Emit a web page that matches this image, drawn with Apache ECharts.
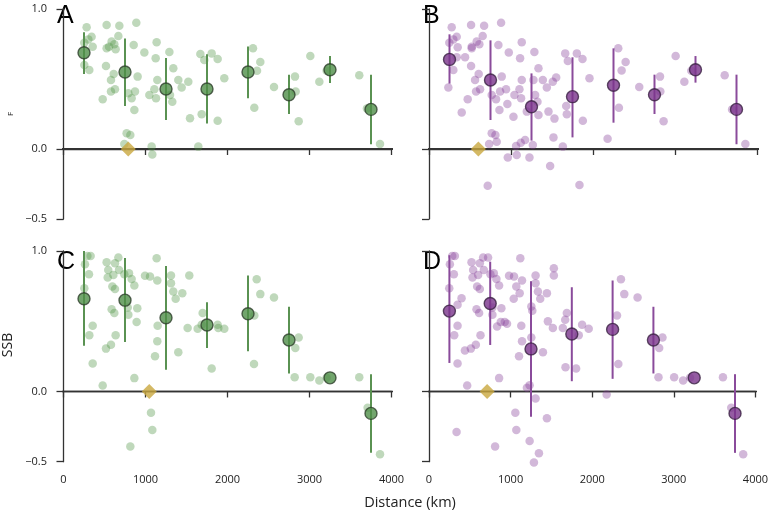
<!DOCTYPE html>
<html>
<head>
<meta charset="utf-8">
<script src="https://cdn.jsdelivr.net/npm/echarts@6/dist/echarts.min.js"></script>
<style>
html,body{margin:0;padding:0;background:#fff;}
#chart{width:771px;height:514px;}
</style>
</head>
<body>
<div id="chart"></div>
<script>
// ---------- DATA ----------
const xTicks = [0, 1000, 2000, 3000, 4000];
const yTicks = [-0.5, 0, 1.0];
const binCenters = [250, 750, 1250, 1750, 2250, 2750, 3250, 3750];

const A_points = [[282,0.869],[526,0.886],[681,0.881],[888,0.902],[343,0.802],[303,0.783],[254,0.759],[356,0.731],[555,0.731],[620,0.748],[669,0.807],[587,0.767],[526,0.719],[636,0.712],[856,0.743],[986,0.690],[1136,0.762],[1291,0.693],[1124,0.648],[1669,0.679],[1807,0.683],[1717,0.636],[1880,0.643],[254,0.600],[315,0.564],[518,0.593],[612,0.536],[579,0.493],[904,0.517],[1144,0.493],[1400,0.493],[1339,0.576],[1522,0.481],[1441,0.440],[1961,0.505],[628,0.426],[579,0.410],[478,0.355],[791,0.398],[872,0.410],[831,0.362],[1047,0.386],[1108,0.426],[1128,0.362],[1299,0.386],[1327,0.338],[864,0.279],[1543,0.219],[1685,0.248],[1880,0.202],[770,0.112],[815,0.100],[1075,0.017],[1083,-0.040],[1644,0.017],[742,0.035],[2311,0.719],[2400,0.621],[2360,0.559],[2327,0.295],[2567,0.443],[2823,0.517],[2831,0.410],[2868,0.198],[3010,0.664],[3120,0.481],[3209,0.559],[3607,0.526],[3700,0.290],[3860,0.036]];
const A_mean = [0.688,0.550,0.429,0.429,0.550,0.388,0.566,0.283];
const A_lo   = [0.536,0.307,0.207,0.183,0.362,0.250,0.471,0.034];
const A_hi   = [0.834,0.790,0.650,0.676,0.733,0.531,0.664,0.531];
const A_ref  = [790, 0];

const B_points = [[277,0.869],[513,0.886],[672,0.881],[879,0.902],[338,0.802],[297,0.783],[248,0.759],[350,0.726],[521,0.731],[614,0.748],[655,0.807],[582,0.767],[521,0.719],[846,0.743],[973,0.690],[1131,0.762],[1285,0.693],[1111,0.648],[1661,0.683],[1803,0.683],[1693,0.629],[1872,0.643],[297,0.564],[513,0.593],[440,0.655],[338,0.655],[606,0.536],[562,0.493],[887,0.517],[1131,0.493],[1274,0.493],[1335,0.576],[1388,0.493],[1551,0.510],[1510,0.481],[1437,0.440],[1957,0.505],[623,0.426],[574,0.410],[472,0.355],[399,0.260],[765,0.386],[867,0.410],[818,0.355],[940,0.426],[956,0.321],[1042,0.386],[1103,0.426],[1123,0.362],[1294,0.386],[1323,0.338],[859,0.279],[1030,0.231],[1193,0.267],[1335,0.243],[1457,0.267],[1530,0.217],[1673,0.307],[1681,0.248],[1876,0.202],[236,0.440],[765,0.112],[810,0.100],[826,0.052],[733,0.036],[1062,0.021],[1119,0.045],[1172,0.064],[1266,0.029],[1070,-0.043],[961,-0.060],[1225,-0.060],[1518,0.083],[1632,0.017],[1477,-0.121],[716,-0.262],[1835,-0.257],[2308,0.719],[2398,0.621],[2349,0.560],[2316,0.295],[2178,0.074],[2564,0.443],[2817,0.517],[2821,0.410],[2861,0.198],[3008,0.664],[3114,0.481],[3199,0.559],[3606,0.526],[3696,0.283],[3858,0.036]];
const B_mean = [0.640,0.493,0.302,0.374,0.455,0.388,0.566,0.283];
const B_lo   = [0.467,0.207,0.060,0.083,0.188,0.250,0.474,0.034];
const B_hi   = [0.819,0.776,0.540,0.655,0.719,0.531,0.664,0.531];
const B_ref  = [602, 0];

const C_points = [[291,0.965],[331,0.965],[262,0.905],[311,0.835],[254,0.735],[526,0.920],[628,0.913],[669,0.953],[546,0.865],[539,0.811],[608,0.830],[677,0.865],[742,0.835],[799,0.842],[831,0.801],[864,0.754],[596,0.747],[628,0.730],[994,0.823],[1055,0.818],[1136,0.948],[1144,0.790],[1311,0.825],[1311,0.771],[1339,0.712],[1368,0.660],[1449,0.700],[1534,0.825],[587,0.586],[620,0.558],[783,0.598],[791,0.546],[900,0.593],[892,0.494],[356,0.468],[315,0.400],[636,0.400],[579,0.333],[518,0.305],[1148,0.468],[1144,0.357],[1116,0.251],[1400,0.279],[356,0.199],[1697,0.558],[1685,0.475],[1514,0.452],[1636,0.447],[1880,0.475],[1888,0.452],[1961,0.447],[1807,0.163],[864,0.095],[478,0.043],[1067,-0.151],[1083,-0.274],[815,-0.392],[2356,0.799],[2400,0.693],[2567,0.669],[2327,0.541],[2323,0.196],[2868,0.385],[2827,0.310],[2819,0.102],[3010,0.102],[3120,0.078],[3209,0.097],[3607,0.102],[3709,-0.116],[3860,-0.447]];
const C_mean = [0.660,0.650,0.525,0.473,0.553,0.366,0.097,-0.156];
const C_lo   = [0.326,0.352,0.154,0.310,0.286,0.128,0.097,-0.437];
const C_hi   = [1.000,0.950,0.894,0.636,0.825,0.603,0.097,0.123];
const C_ref  = [1046, 0];

const D_points = [[285,0.965],[317,0.965],[256,0.905],[305,0.835],[248,0.735],[521,0.920],[623,0.913],[663,0.953],[724,0.953],[541,0.865],[533,0.811],[602,0.830],[672,0.865],[753,0.835],[794,0.842],[826,0.801],[859,0.754],[590,0.747],[623,0.730],[981,0.823],[1042,0.818],[1119,0.948],[1070,0.747],[1140,0.790],[1111,0.700],[1038,0.660],[1306,0.825],[1306,0.771],[1335,0.712],[1363,0.660],[1445,0.700],[1530,0.877],[1530,0.825],[399,0.664],[350,0.617],[582,0.586],[614,0.558],[777,0.598],[777,0.546],[887,0.593],[879,0.494],[928,0.494],[956,0.482],[834,0.463],[350,0.468],[309,0.400],[631,0.400],[574,0.333],[513,0.305],[440,0.291],[1131,0.468],[1140,0.357],[1103,0.251],[1254,0.605],[1266,0.574],[1254,0.385],[1396,0.279],[1457,0.499],[1518,0.452],[1640,0.452],[1669,0.511],[1689,0.558],[1876,0.475],[1957,0.447],[1835,0.400],[1673,0.173],[1803,0.163],[350,0.199],[468,0.043],[859,0.095],[1200,0.026],[1233,0.045],[1306,-0.050],[1058,-0.151],[1445,-0.191],[1070,-0.274],[338,-0.288],[810,-0.392],[1233,-0.352],[1347,-0.440],[1286,-0.506],[2352,0.799],[2393,0.693],[2556,0.669],[2304,0.541],[2320,0.196],[2177,-0.021],[2861,0.385],[2821,0.310],[2812,0.102],[3004,0.102],[3114,0.078],[3199,0.097],[3602,0.102],[3704,-0.116],[3850,-0.447]];
const D_mean = [0.572,0.626,0.303,0.409,0.442,0.366,0.097,-0.156];
const D_lo   = [0.203,0.331,-0.180,0.073,0.090,0.128,0.097,-0.437];
const D_hi   = [0.970,0.924,0.785,0.742,0.790,0.603,0.097,0.123];
const D_ref  = [712, 0];

// ---------- STYLE ----------
const FONT = '"Open Sans", "Noto Sans", sans-serif';
const AX = '#333';
const green = {light:'rgba(78,146,66,0.45)', mean:'#4f8f48', border:'#2e3f2c', bar:'#5a9252'};
const purple = {light:'rgba(130,58,150,0.45)', mean:'#79338b', border:'#3a2242', bar:'#8a4b9b'};
const gold = '#c9a83f';

const panels = [
  {pts:A_points, mean:A_mean, lo:A_lo, hi:A_hi, ref:A_ref, col:green,  left:63.5, top:9,   h:210,  yLab:true,  xLab:false, yOff:12.5, lineStart:-152},
  {pts:B_points, mean:B_mean, lo:B_lo, hi:B_hi, ref:B_ref, col:purple, left:429,  top:9,   h:210,  yLab:false, xLab:false, yOff:14,   lineStart:-170},
  {pts:C_points, mean:C_mean, lo:C_lo, hi:C_hi, ref:C_ref, col:green,  left:63.5, top:251, h:210.7,yLab:true,  xLab:true,  yOff:12.5, lineStart:-152},
  {pts:D_points, mean:D_mean, lo:D_lo, hi:D_hi, ref:D_ref, col:purple, left:429,  top:251, h:210.7,yLab:false, xLab:true,  yOff:14,   lineStart:-170}
];

const grids = [], xAxes = [], yAxes = [], series = [];
panels.forEach((p, i) => {
  grids.push({left:p.left, top:p.top, width:328, height:p.h, containLabel:false});
  xAxes.push({
    type:'value', gridIndex:i, min:0, max:4000, interval:1000, offset:9,
    axisLine:{show:true, lineStyle:{color:AX, width:1.3}},
    axisTick:{show:true, length:6, lineStyle:{color:AX, width:1.3}},
    axisLabel:{show:p.xLab, color:'#222', fontSize:11, fontFamily:FONT, margin:4,
      customValues:xTicks, formatter:v => String(v)},
    splitLine:{show:false}
  });
  yAxes.push({
    type:'value', gridIndex:i, min:-0.5, max:1.0, offset:p.yOff,
    axisLine:{show:true, lineStyle:{color:AX, width:1.3}},
    axisTick:{show:true, length:7, lineStyle:{color:AX, width:1.3}, customValues:yTicks},
    axisLabel:{show:p.yLab, color:'#222', fontSize:11, fontFamily:FONT, margin:4,
      customValues:yTicks,
      formatter:v => (v < 0 ? '\u2212' + Math.abs(v).toFixed(1) : v.toFixed(1))},
    splitLine:{show:false}
  });
  // zero line
  series.push({
    type:'line', xAxisIndex:i, yAxisIndex:i, clip:false, silent:true, z:1,
    data:[[p.lineStart,0],[4170,0]], symbol:'none',
    lineStyle:{color:'#333', width: i < 2 ? 1.8 : 1.4}
  });
  // individual points
  series.push({
    type:'scatter', xAxisIndex:i, yAxisIndex:i, clip:false, z:2,
    data:p.pts, symbolSize:8.5,
    itemStyle:{color:p.col.light, borderWidth:0}
  });
  // error bars
  series.push({
    type:'custom', xAxisIndex:i, yAxisIndex:i, z:3, clip:false,
    data:binCenters.map((x, k) => [x, p.lo[k], p.hi[k]]),
    encode:{x:0, y:[1,2]},
    renderItem:(params, api) => {
      const a = api.coord([api.value(0), api.value(1)]);
      const b = api.coord([api.value(0), api.value(2)]);
      return {type:'line', shape:{x1:a[0], y1:a[1], x2:b[0], y2:b[1]},
        style:{stroke:p.col.bar, lineWidth:2}};
    }
  });
  // means
  series.push({
    type:'scatter', xAxisIndex:i, yAxisIndex:i, clip:false, z:4,
    data:binCenters.map((x, k) => [x, p.mean[k]]), symbolSize:12,
    itemStyle:{color:p.col.mean, borderColor:p.col.border, borderWidth:1.4}
  });
  // reference diamond
  series.push({
    type:'scatter', xAxisIndex:i, yAxisIndex:i, clip:false, z:5,
    data:[p.ref], symbol:'diamond', symbolSize:[15,15],
    itemStyle:{color:gold}
  });
});

const LET = '25px "Liberation Sans", Arial, sans-serif';
const graphic = [
  {type:'text', x:57,  y:16,  style:{text:'A', font:LET, fill:'#000', textVerticalAlign:'middle'}},
  {type:'text', x:423, y:16,  style:{text:'B', font:LET, fill:'#000', textVerticalAlign:'middle'}},
  {type:'text', x:57,  y:262, style:{text:'C', font:LET, fill:'#000', textVerticalAlign:'middle'}},
  {type:'text', x:423, y:262, style:{text:'D', font:LET, fill:'#000', textVerticalAlign:'middle'}},
  {type:'text', x:11, y:114, rotation:Math.PI/2,
    style:{text:'F', font:'8px ' + FONT, fill:'#222', textAlign:'center', textVerticalAlign:'middle'}},
  {type:'text', x:8, y:345, rotation:Math.PI/2,
    style:{text:'SSB', font:'14px ' + FONT, fill:'#222', textAlign:'center', textVerticalAlign:'middle'}},
  {type:'text', x:410, y:503,
    style:{text:'Distance (km)', font:'14.5px ' + FONT, fill:'#222', textAlign:'center', textVerticalAlign:'middle'}}
];

const chart = echarts.init(document.getElementById('chart'), null, {renderer:'canvas'});
chart.setOption({
  animation:false,
  backgroundColor:'#fff',
  grid:grids, xAxis:xAxes, yAxis:yAxes, series:series, graphic:graphic
});
</script>
</body>
</html>
